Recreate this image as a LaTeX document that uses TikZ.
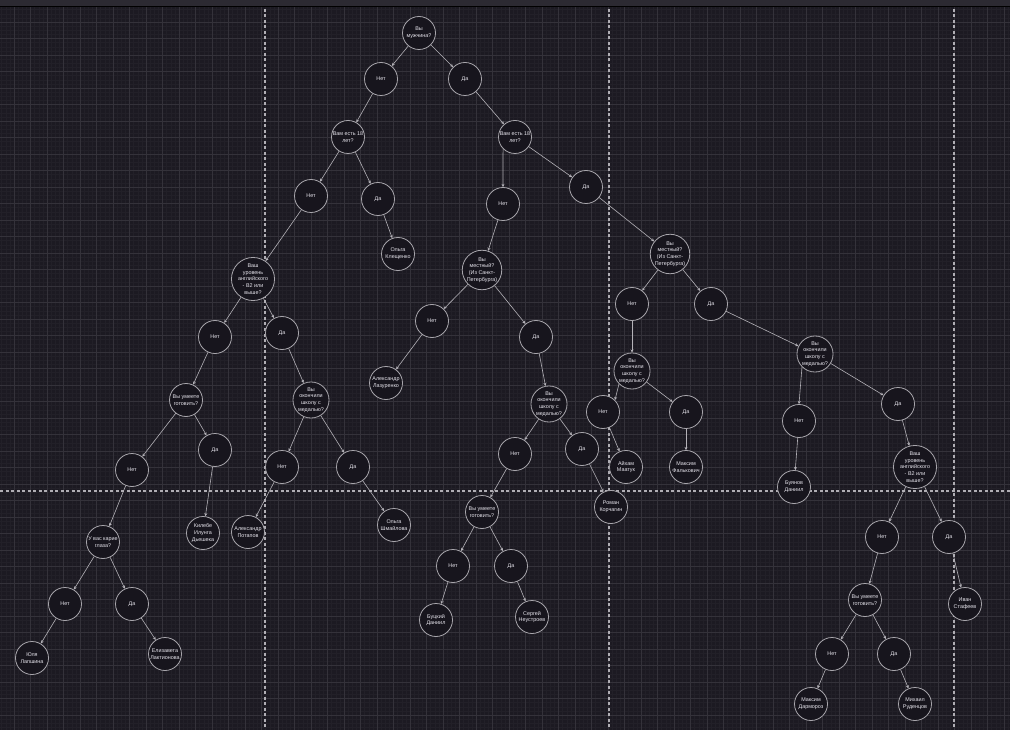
\documentclass[tikz,border=0pt]{standalone}
\usepackage{fontspec}
\setmainfont{Liberation Sans}
\usetikzlibrary{arrows.meta}
\definecolor{bg}{HTML}{1C1A22}
\definecolor{gridminor}{HTML}{222028}
\definecolor{gridmajor}{HTML}{34323A}
\definecolor{topbar}{HTML}{2C2A32}
\definecolor{nodefill}{HTML}{17151D}
\definecolor{nodeline}{HTML}{A8A6AC}
\definecolor{edgecol}{HTML}{B4B2B8}
\definecolor{txt}{HTML}{E8E6EE}
\definecolor{pagebreak}{HTML}{B0AEB4}
\tikzset{
  qnode/.style={circle, draw=nodeline, line width=0.8pt, fill=nodefill, minimum size=33pt, inner sep=0pt, align=center, text=txt, font=\fontsize{5.4}{6.8}\selectfont},
  edge/.style={draw=edgecol, line width=0.6pt, -{Stealth[length=3.2pt,width=3pt]}},
  pagesep/.style={draw=pagebreak, line width=1.4pt, dash pattern=on 3pt off 2.5pt}
}
\begin{document}
\begin{tikzpicture}[x=1pt,y=-1pt]
\useasboundingbox (0,0) rectangle (1010,730);
\fill[bg] (0,0) rectangle (1010,730);
\begin{scope}
\clip (0,7) rectangle (1010,730);
\begin{scope}[shift={(-2.5,5.5)}]
\draw[gridminor, line width=0.3pt, step=4.125pt] (0,0) grid (1020,730);
\draw[gridmajor, line width=0.6pt, step=16.5pt] (0,0) grid (1020,730);
\end{scope}
\end{scope}
\fill[topbar] (0,0) rectangle (1010,6);
\draw[black, line width=0.9pt] (0,6.5) -- (1010,6.5);
% page breaks
\draw[pagesep] (265,9) -- (265,730);
\draw[pagesep] (609,9) -- (609,730);
\draw[pagesep] (954,9) -- (954,730);
\draw[pagesep] (0,491) -- (1010,491);
% nodes
\node[qnode] (n1) at (419,33) {Вы\\мужчина?};
\node[qnode] (n2) at (381,79) {Нет};
\node[qnode] (n3) at (465,79) {Да};
\node[qnode] (n4) at (348,137) {Вам есть 18\\лет?};
\node[qnode] (n5) at (515,137) {Вам есть 18\\лет?};
\node[qnode] (n6) at (311,196) {Нет};
\node[qnode] (n7) at (378,199) {Да};
\node[qnode] (n8) at (398,254) {Ольга\\Клещенко};
\node[qnode] (n9) at (253,279) {Ваш\\уровень\\английского\\- B2 или\\выше?};
\node[qnode] (n10) at (503,204) {Нет};
\node[qnode] (n11) at (586,187) {Да};
\node[qnode] (n12) at (482,270) {Вы\\местный?\\(Из Санкт-\\Петербурга)};
\node[qnode] (n13) at (670,254) {Вы\\местный?\\(Из Санкт-\\Петербурга)};
\node[qnode] (n14) at (632,304) {Нет};
\node[qnode] (n15) at (711,304) {Да};
\node[qnode] (n16) at (632,371) {Вы\\окончили\\школу с\\медалью?};
\node[qnode] (n17) at (815,354) {Вы\\окончили\\школу с\\медалью?};
\node[qnode] (n18) at (215,337) {Нет};
\node[qnode] (n19) at (282,333) {Да};
\node[qnode] (n20) at (186,400) {Вы умеете\\готовить?};
\node[qnode] (n21) at (215,450) {Да};
\node[qnode] (n22) at (132,470) {Нет};
\node[qnode] (n23) at (203,533) {Килебе\\Илунга\\Дьешека};
\node[qnode] (n24) at (103,542) {У вас карие\\глаза?};
\node[qnode] (n25) at (65,604) {Нет};
\node[qnode] (n26) at (132,604) {Да};
\node[qnode] (n27) at (32,658) {Юля\\Лапшина};
\node[qnode] (n28) at (165,654) {Елизавета\\Лактионова};
\node[qnode] (n29) at (311,400) {Вы\\окончили\\школу с\\медалью?};
\node[qnode] (n30) at (282,467) {Нет};
\node[qnode] (n31) at (353,467) {Да};
\node[qnode] (n32) at (248,532) {Александр\\Потапов};
\node[qnode] (n33) at (394,525) {Ольга\\Шмайлова};
\node[qnode] (n34) at (386,383) {Александр\\Лазуренко};
\node[qnode] (n35) at (432,321) {Нет};
\node[qnode] (n36) at (536,337) {Да};
\node[qnode] (n37) at (549,404) {Вы\\окончили\\школу с\\медалью?};
\node[qnode] (n38) at (515,454) {Нет};
\node[qnode] (n39) at (582,449) {Да};
\node[qnode] (n40) at (482,512) {Вы умеете\\готовить?};
\node[qnode] (n41) at (611,507) {Роман\\Корчагин};
\node[qnode] (n42) at (603,412) {Нет};
\node[qnode] (n43) at (626,467) {Айхам\\Маатук};
\node[qnode] (n44) at (686,412) {Да};
\node[qnode] (n45) at (686,467) {Максим\\Фалькович};
\node[qnode] (n46) at (453,566) {Нет};
\node[qnode] (n47) at (511,566) {Да};
\node[qnode] (n48) at (436,620) {Буцкий\\Даниил};
\node[qnode] (n49) at (532,617) {Сергей\\Неустроев};
\node[qnode] (n50) at (799,421) {Нет};
\node[qnode] (n51) at (898,404) {Да};
\node[qnode] (n52) at (794,487) {Буянов\\Даниил};
\node[qnode] (n53) at (915,467) {Ваш\\уровень\\английского\\- B2 или\\выше?};
\node[qnode] (n54) at (882,537) {Нет};
\node[qnode] (n55) at (949,537) {Да};
\node[qnode] (n56) at (965,604) {Иван\\Стафеев};
\node[qnode] (n57) at (865,600) {Вы умеете\\готовить?};
\node[qnode] (n58) at (832,654) {Нет};
\node[qnode] (n59) at (894,654) {Да};
\node[qnode] (n60) at (811,704) {Максим\\Дармороз};
\node[qnode] (n61) at (915,704) {Михаил\\Руденцов};
% edges
\draw[edge] (n5.south west) -- (n10.north);
\draw[edge] (n16.south west) -- (n42.north east);
\draw[edge] (n17.south west) -- (n50.north);
\foreach \a/\b in {n1/n2, n1/n3, n2/n4, n3/n5, n4/n6, n4/n7, n7/n8, n6/n9,
  n5/n11, n10/n12, n11/n13, n13/n14, n13/n15, n14/n16, n15/n17,
  n9/n18, n9/n19, n18/n20, n20/n21, n20/n22, n21/n23, n22/n24, n24/n25,
  n24/n26, n25/n27, n26/n28, n19/n29, n29/n30, n29/n31, n30/n32, n31/n33,
  n12/n35, n12/n36, n35/n34, n36/n37, n37/n38, n37/n39, n38/n40, n39/n41,
  n16/n44, n42/n43, n44/n45, n40/n46, n40/n47, n46/n48, n47/n49,
  n17/n51, n50/n52, n51/n53, n53/n54, n53/n55, n55/n56, n54/n57,
  n57/n58, n57/n59, n58/n60, n59/n61}
  \draw[edge] (\a) -- (\b);
\end{tikzpicture}
\end{document}
